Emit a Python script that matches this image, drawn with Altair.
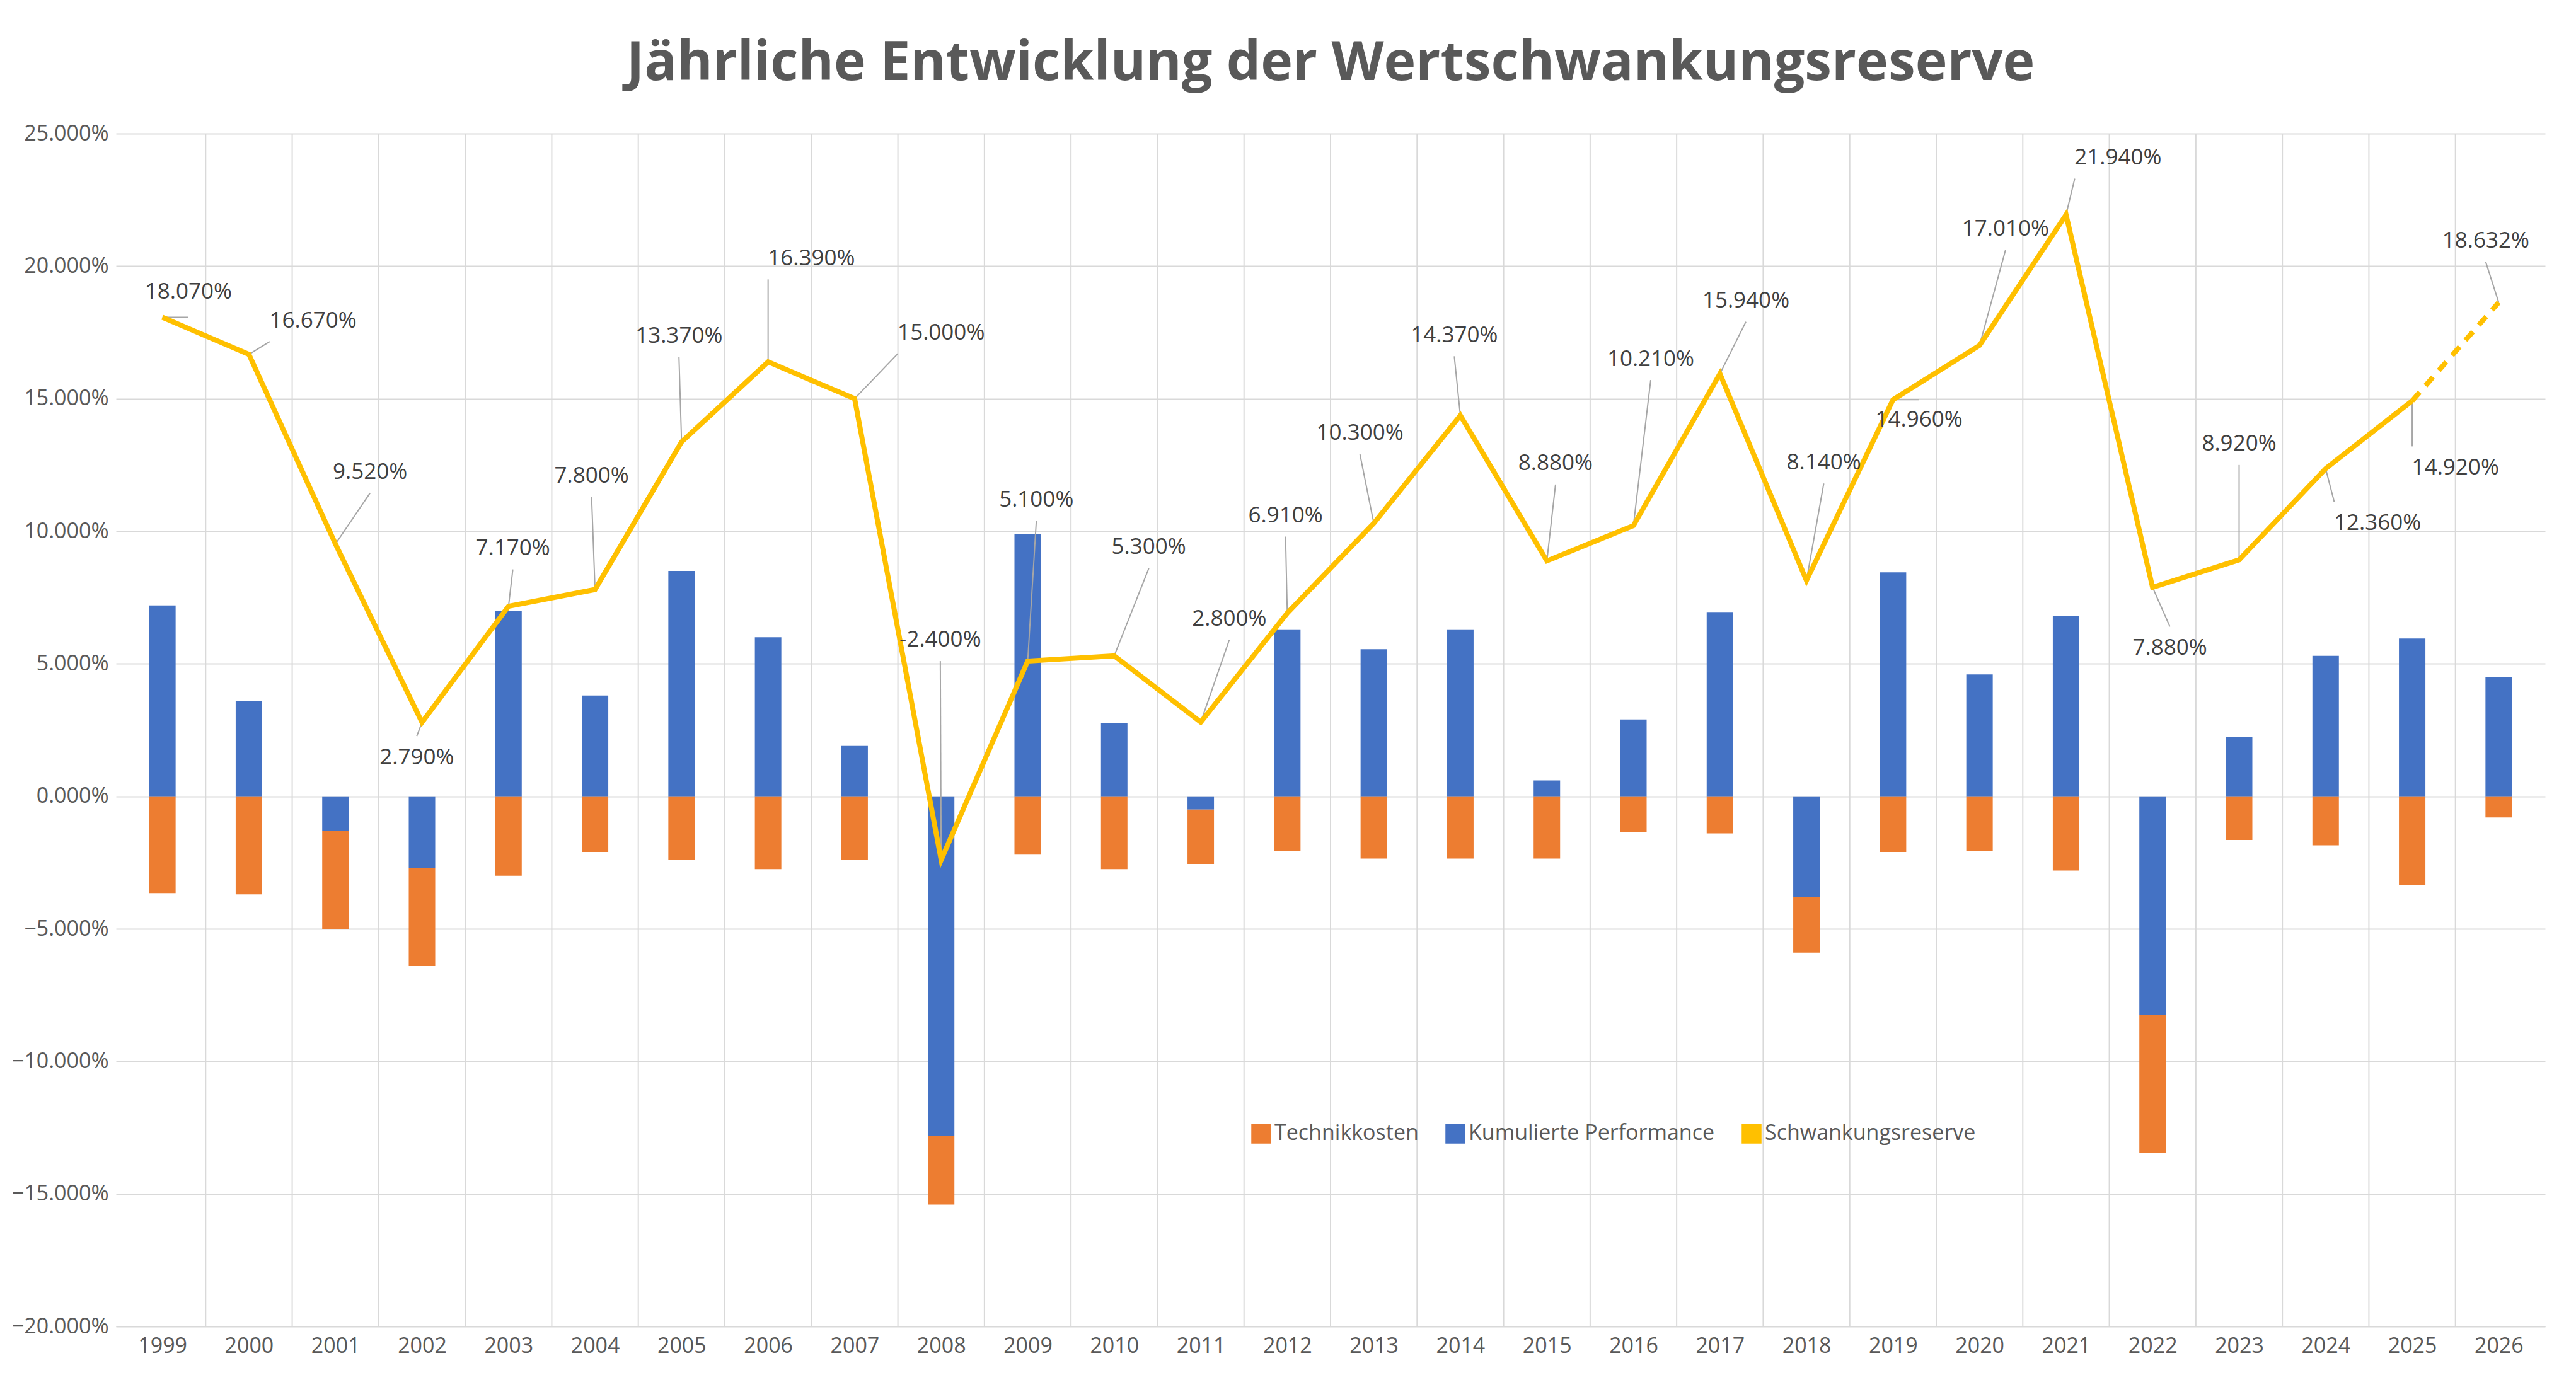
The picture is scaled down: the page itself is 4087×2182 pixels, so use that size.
import altair as alt
import pandas as pd

years = list(range(1999, 2027))
reserve = [18.07, 16.67, 9.52, 2.79, 7.17, 7.8, 13.37, 16.39, 15.0, -2.4, 5.1, 5.3, 2.8, 6.91,
           10.3, 14.37, 8.88, 10.21, 15.94, 8.14, 14.96, 17.01, 21.94, 7.88, 8.92, 12.36, 14.92, 18.632]
labels = ["18.070%", "16.670%", "9.520%", "2.790%", "7.170%", "7.800%", "13.370%", "16.390%",
          "15.000%", "-2.400%", "5.100%", "5.300%", "2.800%", "6.910%", "10.300%", "14.370%",
          "8.880%", "10.210%", "15.940%", "8.140%", "14.960%", "17.010%", "21.940%", "7.880%",
          "8.920%", "12.360%", "14.920%", "18.632%"]
performance = [7.2, 3.6, -1.3, -2.7, 7.0, 3.8, 8.5, 6.0, 1.9, -12.8, 9.9, 2.75, -0.5, 6.3,
               5.55, 6.3, 0.6, 2.9, 6.95, -3.8, 8.45, 4.6, 6.8, -8.25, 2.25, 5.3, 5.95, 4.5]
technik = [-3.65, -3.7, -3.7, -3.7, -3.0, -2.1, -2.4, -2.75, -2.4, -2.6, -2.2, -2.75, -2.05, -2.05,
           -2.35, -2.35, -2.35, -1.35, -1.4, -2.1, -2.1, -2.05, -2.8, -5.2, -1.65, -1.85, -3.35, -0.8]
# label anchor positions (year, percent)
label_x = [1999.3, 2000.74, 2001.4, 2001.94, 2003.05, 2003.96, 2004.97, 2006.5, 2008.0, 2007.99,
           2009.1, 2010.4, 2011.33, 2011.98, 2012.84, 2013.93, 2015.1, 2016.2, 2017.3, 2018.2,
           2019.3, 2020.3, 2021.6, 2022.2, 2023.0, 2024.6, 2025.5, 2025.85]
label_y = [19.04, 17.95, 12.24, 1.47, 9.36, 12.1, 17.37, 20.3, 17.5, 5.9, 11.2, 9.4, 6.7, 10.6,
           13.7, 17.4, 12.56, 16.5, 18.7, 12.6, 14.2, 21.4, 24.1, 5.6, 13.3, 10.3, 12.4, 20.96]

SER = ["Technikkosten", "Kumulierte Performance", "Schwankungsreserve"]
COL = ["#ED7D31", "#4472C4", "#FFC000"]
FONT = "Open Sans"

bars = pd.DataFrame(
    [{"year": y, "v": p / 100, "s": SER[1], "o": 0} for y, p in zip(years, performance)]
    + [{"year": y, "v": t / 100, "s": SER[0], "o": 1} for y, t in zip(years, technik)]
)
line = pd.DataFrame({"year": years, "v": [r / 100 for r in reserve], "s": SER[2], "label": labels})
rows = []
for y, r, lx, ly, lab in zip(years, reserve, label_x, label_y, labels):
    dy = ly - r
    ey = ly - 0.8 * (1 if dy > 0 else -1) if abs(dy) > 1.2 else r
    ex = lx - 0.5 * (1 if lx > y else -1) if abs(lx - y) > 0.45 else lx
    rows.append({"year": y, "v": r / 100, "lx": lx, "ly": ly / 100, "ex": ex, "ey": ey / 100, "label": lab})
lab_df = pd.DataFrame(rows)
grid_df = pd.DataFrame({"g": [y + 0.5 for y in years[:-1]]})

xscale = alt.Scale(domain=[1998.5, 2026.5], nice=False, zero=False)
yscale = alt.Scale(domain=[-0.2, 0.25], nice=False)
xax = alt.Axis(values=years, format="d", grid=False, ticks=False, domain=True, domainColor="#D9D9D9",
               labelFontSize=34, labelColor="#595959", title=None, labelPadding=14, labelFont=FONT)
yax = alt.Axis(values=[i / 100 for i in range(-20, 26, 5)], format=".3%", gridColor="#D9D9D9",
               gridWidth=2, ticks=False, domain=False, labelFontSize=34, labelColor="#595959",
               title=None, labelPadding=12, labelFont=FONT)
color = alt.Color("s:N", scale=alt.Scale(domain=SER, range=COL),
                  legend=alt.Legend(title=None, orient="none", legendX=1800, legendY=1570, direction="horizontal",
                                    symbolType="square", symbolSize=900, labelFontSize=34, labelFont=FONT,
                                    labelColor="#595959", columnPadding=40, labelLimit=0))

vgrid = alt.Chart(grid_df).mark_rule(color="#D9D9D9", strokeWidth=2).encode(x=alt.X("g:Q", scale=xscale, axis=xax))
bar = alt.Chart(bars).mark_bar(width=42).encode(
    x=alt.X("year:Q", scale=xscale, axis=xax),
    y=alt.Y("v:Q", scale=yscale, axis=yax, stack="zero"),
    color=color, order=alt.Order("o:Q"))
main = alt.Chart(line[line.year <= 2025]).mark_line(strokeWidth=8).encode(
    x=alt.X("year:Q", scale=xscale), y=alt.Y("v:Q", scale=yscale), color=color)
dash = alt.Chart(line[line.year >= 2025]).mark_line(strokeWidth=8, strokeDash=[18, 14]).encode(
    x=alt.X("year:Q", scale=xscale), y=alt.Y("v:Q", scale=yscale), color=color)
leaders = alt.Chart(lab_df).mark_rule(color="#A6A6A6", strokeWidth=2).encode(
    x=alt.X("year:Q", scale=xscale), y=alt.Y("v:Q", scale=yscale), x2="ex:Q", y2="ey:Q")
text = alt.Chart(lab_df).mark_text(fontSize=35, font=FONT, color="#404040").encode(
    x=alt.X("lx:Q", scale=xscale), y=alt.Y("ly:Q", scale=yscale), text="label:N")

chart = alt.layer(vgrid, bar, leaders, main, dash, text).properties(
    width=4070, height=2165,
    autosize=alt.AutoSizeParams(type="fit", contains="padding"),
    padding={"left": 10, "right": 40, "top": 50, "bottom": 20},
    title=alt.Title("Jährliche Entwicklung der Wertschwankungsreserve", fontSize=86, font=FONT,
                    fontWeight="bold", color="#595959", offset=50),
    background="white",
).configure_view(stroke=None)

chart.save("out.html", embed_options={"renderer": "svg", "actions": False})
